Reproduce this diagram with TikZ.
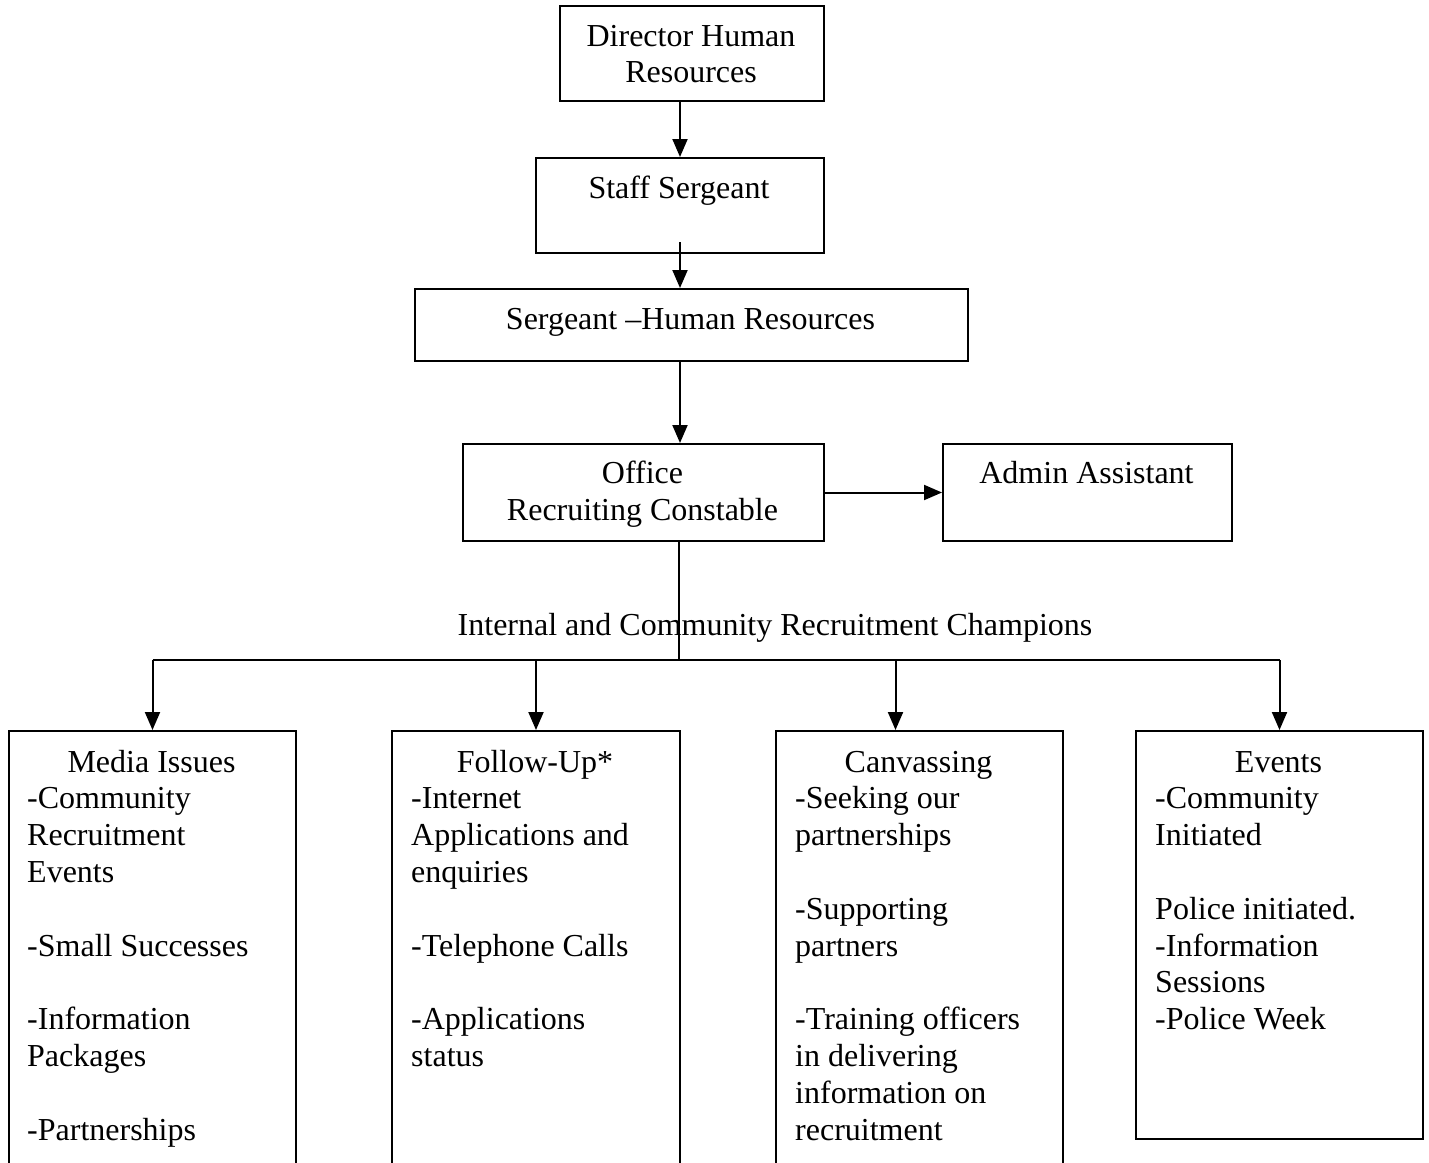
\documentclass[tikz,border=0pt]{standalone}
\usepackage{fontspec}
\setmainfont{Liberation Serif}
\usetikzlibrary{arrows.meta}
\begin{document}
\begin{tikzpicture}[x=1pt,y=-1pt,
  box/.style={draw,line width=2pt,rectangle,inner sep=0pt,anchor=north west},
  txt/.style={inner sep=0pt,font=\fontsize{32}{36.8}\selectfont},
  conn/.style={line width=2pt},
  arr/.style={conn,-{Triangle[length=18pt,width=15pt]}}]
\useasboundingbox (0,0) rectangle (1429,1162);
\clip (0,0) rectangle (1429,1162);
% boxes
\node[box,minimum width=264pt,minimum height=95pt] (dir) at (559,5) {};
\node[box,minimum width=288pt,minimum height=95pt] (ss) at (535,157) {};
\node[box,minimum width=553pt,minimum height=72pt] (sg) at (414,288) {};
\node[box,minimum width=361pt,minimum height=97pt] (of) at (462,443) {};
\node[box,minimum width=289pt,minimum height=97pt] (ad) at (942,443) {};
\node[box,minimum width=287pt,minimum height=460pt] (media) at (8,730) {};
\node[box,minimum width=288pt,minimum height=460pt] (fu) at (391,730) {};
\node[box,minimum width=287pt,minimum height=460pt] (cv) at (775,730) {};
\node[box,minimum width=287pt,minimum height=408pt] (ev) at (1135,730) {};
% texts
\node[txt,anchor=base] (tdir1) at (691,46) {Director Human};
\node[txt,anchor=base] (tdir2) at (691,82) {Resources};
\node[txt,anchor=base] (tss) at (679,198) {Staff Sergeant};
\node[txt,anchor=base] (tsg) at (690.5,329) {Sergeant –Human Resources};
\node[txt,anchor=base] (tof1) at (642.5,483) {Office};
\node[txt,anchor=base] (tof2) at (642.5,520) {Recruiting Constable};
\node[txt,anchor=base] (tad) at (1086.5,483) {Admin Assistant};
\node[txt,anchor=base] (tint) at (775,635) {Internal and Community Recruitment Champions};
\node[txt,anchor=base] (tmedia) at (151.5,772) {Media Issues};
\node[txt,anchor=base] (tfu) at (535,772) {Follow-Up*};
\node[txt,anchor=base] (tcv) at (918.5,772) {Canvassing};
\node[txt,anchor=base] (tev) at (1278.5,772) {Events};
\foreach \n/\t in {1/-Community,2/Recruitment,3/Events,5/-Small Successes,7/-Information,8/Packages,10/-Partnerships}
  \node[txt,anchor=base west] (m\n) at (27,772+36.8*\n) {\t};
\foreach \n/\t in {1/-Internet,2/Applications and,3/enquiries,5/-Telephone Calls,7/-Applications,8/status}
  \node[txt,anchor=base west] (f\n) at (411,772+36.8*\n) {\t};
\foreach \n/\t in {1/-Seeking our,2/partnerships,4/-Supporting,5/partners,7/-Training officers,8/in delivering,9/information on,10/recruitment}
  \node[txt,anchor=base west] (c\n) at (795,772+36.8*\n) {\t};
\foreach \n/\t in {1/-Community,2/Initiated,4/Police initiated.,5/-Information,6/Sessions,7/-Police Week}
  \node[txt,anchor=base west] (e\n) at (1155,772+36.8*\n) {\t};
% connectors
\coordinate (bus) at (679,660);
\draw[arr] (dir.south -| ss.south) -- (ss.north);
\draw[arr] ([yshift=12pt]ss.south) -- (ss.south |- sg.north);
\draw[arr] (ss.south |- sg.south) -- (ss.south |- of.north);
\draw[arr] (of.east) -- (ad.west);
\draw[conn] (bus |- of.south) -- (bus);
\draw[conn] (media.north |- bus) -- (ev.north |- bus);
\draw[arr] (media.north |- bus) -- (media.north);
\draw[arr] (fu.north |- bus) -- (fu.north);
\draw[arr] ([xshift=-24pt]cv.north |- bus) -- ([xshift=-24pt]cv.north);
\draw[arr] (ev.north |- bus) -- (ev.north);
\end{tikzpicture}
\end{document}
